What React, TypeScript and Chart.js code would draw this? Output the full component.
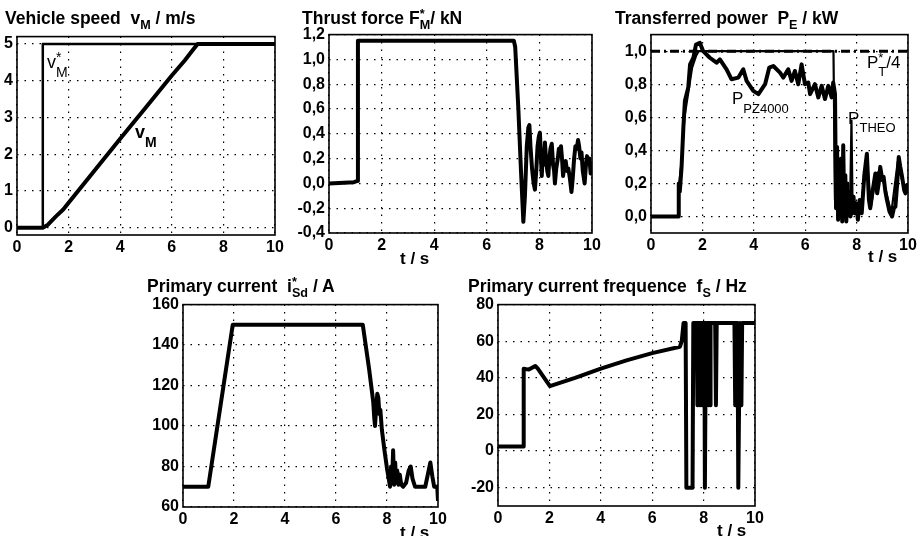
import React, { useEffect, useRef } from "react";
import { Chart, registerables } from "chart.js";

Chart.register(...registerables);

const FONT = '"Liberation Sans", Arial, Helvetica, sans-serif';
const AXIS_W = 50;
const AXIS_H = 32;
const PAD_T = 12;
const PAD_R = 22;

// ---------- data ----------
const xTickValues = [0, 2, 4, 6, 8, 10];

// Vehicle speed
const speedTicks = [0, 1, 2, 3, 4, 5];
const speedRefTime = [0, 1.0, 1.0, 10];
const speedRefValues = [0, 0, 5, 5];
const speedTime = [0, 1.0, 1.2, 1.5, 1.8, 2.0, 3.0, 4.0, 5.0, 6.0, 6.5, 6.8, 7.0, 7.3, 10];
const speedValues = [0, 0, 0.08, 0.3, 0.5, 0.68, 1.55, 2.42, 3.28, 4.14, 4.55, 4.82, 5.0, 5.0, 5.0];

// Thrust force
const forceTicks = [-0.4, -0.2, 0, 0.2, 0.4, 0.6, 0.8, 1.0, 1.2];
const forceTime = [0, 0.95, 1.08, 1.1, 7.03, 7.08, 7.2, 7.3, 7.39, 7.45, 7.52, 7.58, 7.62, 7.66, 7.72, 7.78, 7.83, 7.88, 7.93, 7.98, 8.02, 8.06, 8.09, 8.13, 8.17, 8.21, 8.25, 8.3, 8.34, 8.38, 8.42, 8.47, 8.52, 8.56, 8.59, 8.64, 8.7, 8.74, 8.78, 8.82, 8.86, 8.9, 8.95, 9.0, 9.05, 9.1, 9.16, 9.22, 9.27, 9.32, 9.37, 9.42, 9.47, 9.51, 9.56, 9.6, 9.65, 9.72, 9.77, 9.81, 9.85, 9.9, 9.95, 10];
const forceValues = [0, 0.01, 0.02, 1.15, 1.15, 1.1, 0.6, 0.1, -0.31, -0.1, 0.3, 0.45, 0.47, 0.3, 0.12, 0.0, -0.05, 0.1, 0.3, 0.38, 0.41, 0.2, 0.06, 0.25, 0.15, 0.33, 0.2, 0.1, 0.06, 0.2, 0.28, 0.32, 0.15, 0.1, 0.0, 0.12, 0.2, 0.28, 0.26, 0.3, 0.2, 0.06, 0.15, 0.18, 0.1, 0.12, 0.04, -0.07, 0.05, 0.2, 0.3, 0.28, 0.35, 0.3, 0.2, 0.25, 0.1, 0.0, 0.15, 0.22, 0.18, 0.2, 0.08, 0.15];

// Transferred power
const powerTicks = [0, 0.2, 0.4, 0.6, 0.8, 1.0];
const powerRefTime = [0, 10];
const powerRefValues = [1.0, 1.0];
const pzTime = [0, 1.06, 1.08, 1.12, 1.19, 1.26, 1.32, 1.45, 1.52, 1.65, 1.75, 1.9, 2.03, 2.29, 2.55, 2.68, 2.94, 3.13, 3.4, 3.59, 3.72, 3.98, 4.18, 4.44, 4.6, 4.76, 5.02, 5.15, 5.34, 5.47, 5.6, 5.73, 5.86, 5.99, 6.12, 6.19, 6.38, 6.51, 6.64, 6.77, 6.9, 7.03, 7.09, 7.16, 7.2, 7.24, 7.28, 7.32, 7.36, 7.4, 7.44, 7.48, 7.52, 7.56, 7.6, 7.64, 7.68, 7.72, 7.76, 7.84, 7.88, 7.92, 7.98, 8.05, 8.12, 8.2, 8.3, 8.4, 8.48, 8.53, 8.62, 8.73, 8.8, 8.86, 8.92, 9.0, 9.05, 9.12, 9.18, 9.28, 9.38, 9.45, 9.51, 9.58, 9.64, 9.7, 9.77, 9.85, 9.9, 10];
const pzValues = [0, 0, 0.2, 0.15, 0.3, 0.54, 0.7, 0.78, 0.92, 0.96, 1.04, 1.05, 1.0, 0.96, 0.93, 0.95, 0.89, 0.83, 0.84, 0.89, 0.82, 0.76, 0.74, 0.8, 0.9, 0.91, 0.87, 0.84, 0.89, 0.82, 0.88, 0.8, 0.92, 0.8, 0.81, 0.74, 0.8, 0.72, 0.79, 0.71, 0.79, 0.72, 0.81, 0.74, 0.05, 0.42, -0.02, 0.3, 0.0, 0.35, -0.03, 0.43, 0.02, 0.25, -0.03, 0.2, 0.02, 0.15, 0.0, 0.05, 0.12, 0.02, 0.08, -0.02, 0.1, 0.02, 0.25, 0.38, 0.1, 0.05, 0.15, 0.26, 0.14, 0.2, 0.3, 0.22, 0.24, 0.15, 0.1, 0.03, 0.0, 0.05, 0.06, 0.2, 0.36, 0.3, 0.24, 0.16, 0.14, 0.2];
const theoTime = [0, 1.06, 1.1, 1.2, 1.3, 1.45, 1.6, 1.75, 1.85, 7.1, 7.16, 7.3, 7.45, 7.6, 7.75, 7.8, 7.84, 8.0, 8.2, 8.4, 8.55, 8.75, 8.9, 9.1, 9.35, 9.6, 9.8, 10];
const theoValues = [0, 0, 0.2, 0.35, 0.6, 0.75, 0.9, 0.97, 1.0, 1.0, 0.1, 0.2, 0.05, 0.15, 0.1, 0.58, 0.1, 0.05, 0.1, 0.35, 0.05, 0.25, 0.28, 0.18, 0.02, 0.33, 0.2, 0.18];

// Primary current
const currentTicks = [60, 80, 100, 120, 140, 160];
const currentTime = [0, 0.99, 1.95, 7.05, 7.3, 7.46, 7.5, 7.53, 7.57, 7.62, 7.66, 7.7, 7.74, 7.8, 7.9, 8.0, 8.12, 8.16, 8.2, 8.24, 8.28, 8.32, 8.36, 8.4, 8.45, 8.5, 8.56, 8.63, 8.75, 8.85, 8.93, 9.0, 9.1, 9.5, 9.6, 9.7, 9.78, 9.85, 9.97, 10];
const currentValues = [70, 70, 150, 150, 128, 112, 104, 100, 108, 116, 114, 106, 108, 98, 88, 79, 70, 80, 72, 88, 71, 82, 72, 78, 71, 76, 71, 70, 72, 78, 80, 74, 70, 70, 76, 82, 75, 70, 70, 63];

// Primary current frequency
const freqTicks = [-20, 0, 20, 40, 60, 80];
const freqTime = [0, 0.98, 1.0, 1.2, 1.45, 1.55, 2.02, 3, 4, 5, 6, 7.08, 7.15, 7.22, 7.3, 7.33, 7.57, 7.6, 7.73, 7.76, 7.79, 7.82, 7.85, 7.88, 7.91, 7.94, 7.97, 8.0, 8.03, 8.05, 8.07, 8.1, 8.13, 8.16, 8.19, 8.22, 8.25, 8.27, 8.45, 8.48, 8.51, 9.2, 9.23, 9.26, 9.29, 9.32, 9.35, 9.38, 9.41, 9.44, 9.47, 9.5, 10];
const freqValues = [2.5, 2.5, 45, 44.5, 46.5, 45, 35.5, 40, 45, 49.5, 53.5, 57, 60, 70, 70, -20, -20, 70, 70, 25, 70, 25, 70, 25, 70, 25, 70, 25, 70, -20, 25, 70, 25, 70, 25, 70, 25, 70, 70, 25, 70, 70, 25, 70, 25, 70, -20, 25, 70, 25, 25, 70, 70];

// ---------- helpers ----------
type Part = { base?: string; sup?: string; sub?: string };
type Note = { x: number; y: number; parts: Part[]; size: number; bold?: boolean };
type Series = { time: number[]; values: number[]; width: number; dash?: number[] };
type Area = { l: number; t: number; r: number; b: number };

function zip(time: number[], values: number[]) {
  const n = Math.min(time.length, values.length);
  const out: { x: number; y: number }[] = [];
  for (let i = 0; i < n; i++) out.push({ x: time[i], y: values[i] });
  return out;
}

const intFmt = (v: number) => String(v);
const commaFmt = (v: number) => v.toFixed(1).replace(".", ",");

function drawParts(ctx: CanvasRenderingContext2D, x: number, y: number, parts: Part[], size: number, bold?: boolean) {
  const w = bold ? "bold " : "";
  const small = Math.round(size * 0.75);
  ctx.fillStyle = "#000";
  ctx.textAlign = "left";
  ctx.textBaseline = "alphabetic";
  for (const p of parts) {
    if (p.base) {
      ctx.font = `${w}${size}px ${FONT}`;
      ctx.fillText(p.base, x, y);
      x += ctx.measureText(p.base).width;
    }
    if (p.sup || p.sub) {
      ctx.font = `${w}${small}px ${FONT}`;
      let adv = 0;
      if (p.sup) {
        ctx.fillText(p.sup, x, y - size * 0.35);
        adv = Math.max(adv, ctx.measureText(p.sup).width);
      }
      if (p.sub) {
        ctx.fillText(p.sub, x, y + size * 0.5);
        adv = Math.max(adv, ctx.measureText(p.sub).width);
      }
      x += adv;
    }
  }
}

function Panel(props: {
  area: Area;
  yMin: number;
  yMax: number;
  yTicks: number[];
  fmt: (v: number) => string;
  series: Series[];
  notes: Note[];
}) {
  const { area, yMin, yMax, yTicks, fmt, series, notes } = props;
  const ref = useRef<HTMLCanvasElement>(null);
  const width = area.r - area.l + AXIS_W + PAD_R;
  const height = area.b - area.t + PAD_T + AXIS_H;

  useEffect(() => {
    const canvas = ref.current!;
    const overlay = {
      id: "frameNotes",
      afterDatasetsDraw(chart: any) {
        const ctx = chart.ctx as CanvasRenderingContext2D;
        const xs = chart.scales.x;
        const ys = chart.scales.y;
        ctx.save();
        for (const n of notes) {
          drawParts(ctx, xs.getPixelForValue(n.x), ys.getPixelForValue(n.y), n.parts, n.size, n.bold);
        }
        ctx.restore();
      },
      afterDraw(chart: any) {
        const ctx = chart.ctx as CanvasRenderingContext2D;
        const a = chart.chartArea;
        ctx.save();
        ctx.strokeStyle = "#000";
        ctx.lineWidth = 1.6;
        ctx.setLineDash([]);
        ctx.strokeRect(a.left, a.top, a.right - a.left, a.bottom - a.top);
        ctx.restore();
      },
    };
    const tickFont = { family: FONT, size: 16, weight: "bold" as const };
    const chart = new Chart(canvas, {
      type: "line",
      data: {
        datasets: series.map((s) => ({
          data: zip(s.time, s.values),
          borderColor: "#000",
          backgroundColor: "#000",
          borderWidth: s.width,
          borderDash: s.dash || [],
          pointRadius: 0,
          tension: 0,
          fill: false,
          borderJoinStyle: "round" as const,
          borderCapStyle: "butt" as const,
        })),
      },
      options: {
        animation: false,
        responsive: false,
        maintainAspectRatio: false,
        events: [],
        parsing: false,
        normalized: true,
        layout: { padding: { left: 0, top: PAD_T, right: PAD_R, bottom: 0 } },
        plugins: {
          legend: { display: false },
          tooltip: { enabled: false },
          title: { display: false },
        },
        scales: {
          x: {
            type: "linear",
            min: 0,
            max: 10,
            afterBuildTicks: (s: any) => {
              s.ticks = xTickValues.map((v) => ({ value: v }));
            },
            afterFit: (s: any) => {
              s.height = AXIS_H;
            },
            grid: { color: "#000", lineWidth: 1.2, drawTicks: false },
            border: { display: false, dash: [1.5, 6] },
            ticks: {
              color: "#000",
              font: tickFont,
              padding: 3,
              maxRotation: 0,
              autoSkip: false,
              callback: (v: any) => intFmt(Number(v)),
            },
          },
          y: {
            type: "linear",
            min: yMin,
            max: yMax,
            afterBuildTicks: (s: any) => {
              s.ticks = yTicks.map((v) => ({ value: v }));
            },
            afterFit: (s: any) => {
              s.width = AXIS_W;
            },
            grid: { color: "#000", lineWidth: 1.2, drawTicks: false },
            border: { display: false, dash: [1.5, 6] },
            ticks: {
              color: "#000",
              font: tickFont,
              padding: 4,
              autoSkip: false,
              callback: (v: any) => fmt(Number(v)),
            },
          },
        },
      },
      plugins: [overlay],
    } as any);
    return () => chart.destroy();
  }, []);

  return (
    <canvas
      ref={ref}
      width={width}
      height={height}
      style={{ position: "absolute", left: area.l - AXIS_W, top: area.t - PAD_T, width, height }}
    />
  );
}

function Rich({ parts }: { parts: Part[] }) {
  return (
    <>
      {parts.map((p, i) => (
        <React.Fragment key={i}>
          {p.base}
          {(p.sup || p.sub) && (
            <span style={{ display: "inline-block", position: "relative", fontSize: "0.72em" }}>
              {p.sup && <span style={{ position: "absolute", left: 0, top: "-0.45em" }}>{p.sup}</span>}
              <span style={{ position: "relative", top: "0.4em" }}>{p.sub || ""}</span>
            </span>
          )}
        </React.Fragment>
      ))}
    </>
  );
}

function Label(props: { left: number; top: number; size: number; parts: Part[] }) {
  return (
    <div
      style={{
        position: "absolute",
        left: props.left,
        top: props.top,
        fontFamily: FONT,
        fontWeight: "bold",
        fontSize: props.size,
        lineHeight: `${props.size}px`,
        whiteSpace: "pre",
        color: "#000",
      }}
    >
      <Rich parts={props.parts} />
    </div>
  );
}

export default function App() {
  return (
    <div
      style={{
        position: "fixed",
        left: 0,
        top: 0,
        width: 921,
        height: 536,
        background: "#fff",
        overflow: "hidden",
      }}
    >
      <Panel
        area={{ l: 17, t: 35, r: 275, b: 235 }}
        yMin={-0.2}
        yMax={5.2}
        yTicks={speedTicks}
        fmt={intFmt}
        series={[
          { time: speedRefTime, values: speedRefValues, width: 2.5 },
          { time: speedTime, values: speedValues, width: 4 },
        ]}
        notes={[
          { x: 1.16, y: 4.34, parts: [{ base: "v", sup: "*", sub: "M" }], size: 18 },
          { x: 4.57, y: 2.45, parts: [{ base: "v", sub: "M" }], size: 18, bold: true },
        ]}
      />
      <Panel
        area={{ l: 329, t: 33, r: 592, b: 233 }}
        yMin={-0.4}
        yMax={1.2}
        yTicks={forceTicks}
        fmt={commaFmt}
        series={[{ time: forceTime, values: forceValues, width: 4 }]}
        notes={[]}
      />
      <Panel
        area={{ l: 651, t: 33, r: 908, b: 233 }}
        yMin={-0.1}
        yMax={1.1}
        yTicks={powerTicks}
        fmt={commaFmt}
        series={[
          { time: powerRefTime, values: powerRefValues, width: 3, dash: [9, 4, 2, 4] },
          { time: theoTime, values: theoValues, width: 2.2 },
          { time: pzTime, values: pzValues, width: 4 },
        ]}
        notes={[
          { x: 8.4, y: 0.9, parts: [{ base: "P", sup: "*", sub: "T" }, { base: "/4" }], size: 17 },
          { x: 3.15, y: 0.68, parts: [{ base: "P", sub: "PZ4000" }], size: 17 },
          { x: 7.67, y: 0.56, parts: [{ base: "P", sub: "THEO" }], size: 17 },
        ]}
      />
      <Panel
        area={{ l: 183, t: 303, r: 438, b: 507 }}
        yMin={60}
        yMax={160}
        yTicks={currentTicks}
        fmt={intFmt}
        series={[{ time: currentTime, values: currentValues, width: 4 }]}
        notes={[]}
      />
      <Panel
        area={{ l: 498, t: 303, r: 755, b: 506 }}
        yMin={-30}
        yMax={80}
        yTicks={freqTicks}
        fmt={intFmt}
        series={[{ time: freqTime, values: freqValues, width: 4 }]}
        notes={[]}
      />

      <Label left={5} top={9.5} size={17.5} parts={[{ base: "Vehicle speed  v", sub: "M" }, { base: " / m/s" }]} />
      <Label left={302} top={9.5} size={17.5} parts={[{ base: "Thrust force F", sup: "*", sub: "M" }, { base: "/ kN" }]} />
      <Label left={615} top={9.5} size={17.5} parts={[{ base: "Transferred power  P", sub: "E" }, { base: " / kW" }]} />
      <Label left={147} top={277.5} size={17.5} parts={[{ base: "Primary current  i", sup: "*", sub: "Sd" }, { base: " / A" }]} />
      <Label left={468} top={277.5} size={17.5} parts={[{ base: "Primary current frequence  f", sub: "S" }, { base: " / Hz" }]} />

      <Label left={400} top={249.5} size={17} parts={[{ base: "t / s" }]} />
      <Label left={868} top={247.5} size={17} parts={[{ base: "t / s" }]} />
      <Label left={400} top={523.5} size={17} parts={[{ base: "t / s" }]} />
      <Label left={717} top={521.5} size={17} parts={[{ base: "t / s" }]} />
    </div>
  );
}
